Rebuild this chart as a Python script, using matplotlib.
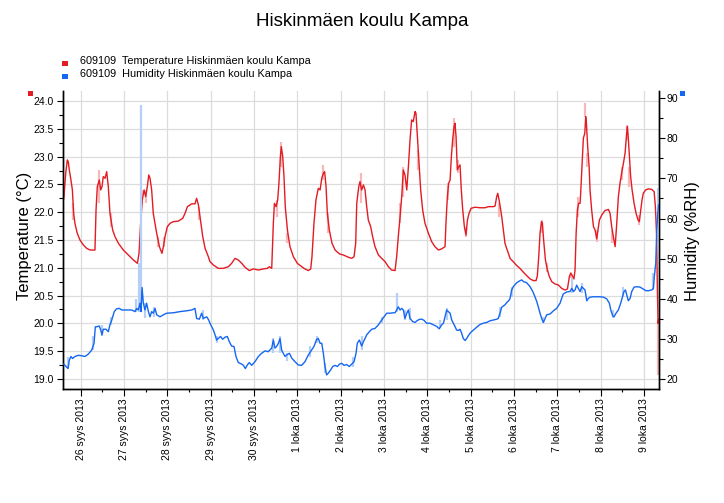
import datetime as dt
import matplotlib
matplotlib.use("Agg")
import matplotlib.pyplot as plt
import matplotlib.dates as mdates
from matplotlib.ticker import MultipleLocator, FuncFormatter
from matplotlib.patches import Rectangle

plt.rcParams['font.family'] = ['Liberation Sans', 'DejaVu Sans']

title = "Hiskinmäen koulu Kampa"
series_names = ["609109  Temperature Hiskinmäen koulu Kampa",
                "609109  Humidity Hiskinmäen koulu Kampa"]
month_names = {9: "syys", 10: "loka"}
base = dt.datetime(2013, 9, 26)
x_start_h, x_end_h = -9.8, 320.3

# hours since 26.9.2013 00:00
temp_h = [-9.3, -8.3, -7.4, -6.9, -6.3, -5.4, -4.6, -3.9, -3.2, -1.9, -0.4, 1.5, 3.3, 5.2, 7.9, 8.5, 9.2, 10.3, 11.1, 11.8,
          12.5, 13.5, 14.4, 15.3, 16.2, 17.7, 19.0, 20.9, 23.6, 26.4, 29.2, 31.4, 32.3, 33.2, 34.1, 35.1, 36.0, 36.9, 37.7, 38.4,
          39.3, 40.2, 42.1, 43.6, 45.0, 45.8, 46.7, 48.0, 49.5, 51.3, 54.1, 56.5, 57.8, 59.1, 61.5, 63.3, 64.2, 65.2, 66.1, 67.6,
          68.9, 70.7,
          71.6, 73.5, 76.2, 79.0, 81.8, 83.6, 85.5, 87.3, 89.2, 91.0, 93.4, 95.6, 98.4, 101.2, 103.4, 104.5, 105.8, 106.7, 107.3, 108.2,
          109.1, 109.8, 110.6, 111.1, 111.9, 112.6, 113.3, 114.5, 115.9, 117.8, 120.0, 122.4, 124.2, 126.1, 127.4, 128.1, 129.2, 130.3, 131.6, 132.6,
          133.5, 134.4, 135.1, 135.9, 136.6, 137.7, 139.2, 140.9, 143.3, 145.5, 148.2, 150.1, 151.4, 152.3, 152.9, 154.0,
          154.7, 155.6, 156.6, 157.5, 158.4, 159.3, 160.6, 161.7, 163.0, 164.9, 166.7, 168.6, 170.4, 172.2, 174.1, 175.0, 175.9, 176.9, 177.8, 178.7,
          179.6, 180.6, 181.5, 182.4, 183.3, 184.2, 185.2, 185.7, 186.5, 187.4, 188.3, 189.4, 190.7, 192.6, 194.4, 196.2, 198.1, 199.9, 201.8, 202.3,
          203.1, 203.8, 204.6, 205.3, 206.0, 206.8, 207.3, 207.9, 208.6, 209.4, 210.1, 210.8, 211.6, 212.5, 213.4, 214.2, 215.1, 216.2, 218.4, 221.2,
          223.9, 225.8, 228.6, 229.5, 230.4, 231.0, 231.9, 233.2, 234.1, 235.0, 235.9, 236.9,
          237.8, 239.6, 241.5, 243.3, 245.2, 247.0, 248.9, 250.7, 252.2, 252.9, 253.7, 254.4, 255.2, 255.7, 256.4, 257.4, 258.5, 259.6, 260.9, 262.7,
          264.6, 266.4, 268.3, 269.6, 270.7, 271.4, 272.1, 273.2, 273.8, 274.4, 275.1, 275.8, 276.6, 277.1, 277.9, 278.4, 279.2, 279.7, 280.1, 280.8,
          281.6, 282.1, 283.0, 284.0, 284.9, 285.8, 286.5, 287.3, 288.6, 290.4, 292.3, 293.2, 294.1, 295.0, 296.0, 296.9, 297.8, 298.7, 299.6, 300.6,
          301.5, 302.4, 302.8, 303.3, 303.9, 304.6, 305.4, 306.5, 307.6, 308.7, 309.4, 310.2, 310.9, 311.6, 312.9, 314.4, 316.3, 317.6, 318.3, 319.0,
          319.4, 319.8, 320.1]
temp_v = [22.28, 22.70, 22.94, 22.91, 22.76, 22.58, 22.40, 21.98, 21.80, 21.62, 21.50, 21.41, 21.35, 21.32, 21.32, 22.04, 22.46, 22.58, 22.40, 22.46,
          22.64, 22.61, 22.73, 22.46, 21.98, 21.68, 21.56, 21.44, 21.32, 21.23, 21.14, 21.08, 21.26, 21.80, 22.22, 22.40, 22.28, 22.46, 22.67, 22.61,
          22.40, 21.98, 21.62, 21.38, 21.26, 21.38, 21.56, 21.74, 21.80, 21.83, 21.84, 21.89, 21.98, 22.10, 22.15, 22.15, 22.25, 22.13, 21.92, 21.56,
          21.35, 21.20,
          21.11, 21.05, 20.99, 20.99, 21.02, 21.08, 21.17, 21.14, 21.08, 21.01, 20.95, 20.98, 20.96, 20.98, 20.99, 21.02, 20.99, 21.80, 22.16, 22.10,
          22.22, 22.52, 23.00, 23.18, 23.00, 22.64, 22.10, 21.68, 21.38, 21.20, 21.08, 21.02, 20.98, 20.95, 20.98, 21.20, 21.80, 22.22, 22.43, 22.40,
          22.61, 22.70, 22.73, 22.46, 21.98, 21.68, 21.44, 21.32, 21.25, 21.23, 21.19, 21.17, 21.20, 21.44, 22.16, 22.46,
          22.55, 22.40, 22.49, 22.40, 22.10, 21.86, 21.74, 21.56, 21.38, 21.23, 21.17, 21.11, 21.02, 20.96, 20.95, 21.20, 21.56, 21.92, 22.28, 22.76,
          22.67, 22.40, 22.82, 23.30, 23.66, 23.63, 23.81, 23.78, 23.36, 22.88, 22.40, 22.04, 21.80, 21.62, 21.47, 21.38, 21.32, 21.34, 21.38, 21.80,
          22.28, 22.52, 22.58, 23.00, 23.30, 23.54, 23.60, 23.36, 22.76, 22.82, 22.85, 22.40, 22.04, 21.74, 21.59, 21.86, 21.98, 22.07, 22.09, 22.08,
          22.08, 22.10, 22.10, 22.11, 22.28, 22.34, 22.19, 21.92, 21.68, 21.44, 21.35, 21.26,
          21.17, 21.11, 21.04, 20.99, 20.92, 20.86, 20.80, 20.77, 20.77, 20.85, 21.20, 21.62, 21.83, 21.80, 21.50, 21.14, 20.96, 20.84, 20.75, 20.71,
          20.69, 20.63, 20.60, 20.62, 20.85, 20.90, 20.87, 20.80, 20.96, 21.62, 22.04, 22.16, 22.16, 22.46, 23.00, 23.33, 23.42, 23.72, 23.60, 23.18,
          22.82, 22.40, 22.04, 21.74, 21.68, 21.52, 21.68, 21.86, 21.95, 22.03, 22.05, 21.98, 21.74, 21.56, 21.38, 21.80, 22.28, 22.52, 22.70, 22.88,
          23.06, 23.42, 23.54, 23.33, 23.00, 22.64, 22.40, 22.16, 21.98, 21.86, 21.83, 22.04, 22.22, 22.34, 22.40, 22.42, 22.41, 22.37, 22.10, 21.56,
          20.60, 20.00, 20.07]

hum_h = [-9.3, -8.1, -7.0, -6.3, -5.4, -4.5, -3.2, -1.3, 0.5, 2.4, 4.2, 6.1, 7.4, 8.1, 8.8, 10.3, 11.1, 11.8, 12.5, 14.0,
         15.3, 16.2, 17.2, 18.6, 19.9, 21.4, 22.7, 25.5, 28.2, 30.1, 31.0, 31.9, 32.9, 33.4, 34.0, 34.7, 35.6, 36.5, 37.5, 38.4,
         39.3, 40.2, 41.2, 42.1, 43.9, 45.8, 47.6, 51.3, 55.0, 58.7, 61.5, 63.3, 64.2, 65.7, 67.0, 67.9, 69.8, 70.9,
         71.6, 72.5, 73.5, 74.4, 75.3, 76.2, 77.5, 78.6, 79.9, 81.2, 82.3, 83.6, 84.9, 86.0, 87.3, 89.2, 90.1, 91.2, 92.3, 93.4,
         94.7, 96.5, 98.4, 100.2, 102.1, 103.9, 105.8, 106.7, 107.6, 108.5, 109.5, 110.4, 111.3, 112.2, 113.2, 114.1, 115.6, 116.9, 118.7, 120.5,
         122.4, 124.2, 126.1, 127.9, 129.2, 130.7, 131.6, 132.6, 133.5, 134.4, 135.3, 136.2, 137.4, 138.5, 139.6, 140.9, 142.2, 143.3, 144.6, 145.8,
         147.3, 148.8, 150.1, 151.4, 152.5, 153.2, 154.3,
         154.7, 155.6, 156.6, 157.5, 158.4, 159.9, 161.2, 163.0, 164.9, 166.7, 168.0, 169.5, 171.3, 173.2, 174.1, 175.0, 175.9, 176.9, 177.8, 178.7,
         179.6, 180.6, 181.5, 182.4, 183.9, 185.2, 186.5, 187.9, 189.0, 190.2, 191.6, 193.5, 195.3, 197.2, 198.6, 199.9, 200.9, 201.8, 202.7, 203.6,
         204.6, 205.5, 206.4, 207.3, 208.2, 209.2, 210.1, 211.0, 211.9, 212.9, 213.8, 214.7, 216.0, 217.5, 219.3, 221.2, 223.0, 224.9, 226.7, 228.6,
         230.4, 231.3, 232.3, 233.2, 234.1, 235.0, 235.9, 237.4,
         237.8, 238.7, 239.6, 241.5, 243.3, 244.3, 245.2, 247.0, 248.9, 250.4, 251.6, 252.6, 253.5, 254.4, 255.3, 256.3, 257.2, 258.1, 260.0, 261.8,
         263.6, 265.5, 266.4, 267.3, 269.2, 271.0, 272.0, 272.9, 273.8, 274.7, 275.6, 276.6, 277.5, 278.4, 279.3, 280.3, 281.2, 282.1, 284.0, 285.8,
         287.6, 289.5, 291.3, 292.8, 293.6, 294.7, 295.4, 296.5, 297.8, 299.1, 300.2, 300.9, 301.7, 302.4, 303.3, 304.3, 305.2, 306.5, 308.0, 309.8,
         311.6, 313.1, 314.4, 316.3, 317.2, 317.7, 318.5, 319.0, 319.6, 320.1]
hum_v = [23.7, 23.1, 22.6, 24.7, 25.6, 25.1, 25.6, 25.9, 25.8, 25.6, 26.2, 27.2, 28.9, 33.0, 33.0, 33.2, 32.2, 31.0, 32.4, 32.4,
         31.8, 33.5, 34.7, 36.8, 37.5, 37.6, 37.2, 37.2, 37.2, 36.8, 37.6, 37.2, 38.9, 36.8, 42.8, 38.9, 37.2, 38.9, 36.8, 35.5,
         36.8, 36.4, 37.6, 36.0, 35.5, 36.0, 36.4, 36.5, 36.8, 37.0, 37.2, 37.6, 35.1, 34.9, 36.4, 35.1, 35.5, 34.7,
         33.9, 33.1, 32.2, 31.0, 29.7, 30.1, 30.6, 29.9, 30.4, 30.6, 29.3, 28.2, 28.1, 25.6, 24.1, 23.7, 23.4, 22.6, 23.5, 24.1,
         23.4, 24.3, 25.6, 26.4, 27.0, 26.8, 27.7, 29.7, 27.7, 28.1, 28.9, 30.1, 27.2, 26.4, 25.6, 26.0, 26.4, 25.2, 24.3, 23.5,
         23.4, 24.3, 26.0, 27.2, 28.1, 29.9, 30.1, 28.9, 28.9, 26.4, 23.1, 21.0, 21.6, 22.3, 23.1, 23.4, 23.1, 23.7, 23.9, 23.4,
         23.6, 23.1, 23.7, 24.3, 26.4, 28.9, 29.7,
         29.3, 28.2, 29.3, 30.1, 31.0, 31.8, 32.4, 32.6, 33.5, 34.7, 35.5, 36.4, 36.4, 36.5, 36.5, 37.2, 38.0, 37.2, 37.6, 37.2,
         35.1, 36.4, 37.2, 35.1, 34.3, 34.1, 34.6, 34.9, 34.9, 34.6, 33.9, 33.9, 33.5, 33.1, 32.5, 33.5, 33.9, 35.5, 37.2, 36.8,
         36.4, 34.7, 33.9, 33.1, 32.2, 32.1, 32.4, 31.4, 30.1, 29.6, 30.1, 30.8, 31.6, 32.2, 32.9, 33.6, 33.9, 34.1, 34.5, 34.7,
         34.9, 35.1, 36.5, 37.9, 38.2, 38.5, 39.0, 39.7,
         40.1, 42.2, 43.0, 44.0, 44.5, 44.7, 44.3, 44.0, 43.0, 41.8, 40.5, 39.3, 37.9, 36.4, 35.1, 34.1, 35.1, 36.0, 36.2, 37.0,
         37.6, 38.9, 40.1, 41.2, 41.7, 41.8, 42.6, 41.8, 42.2, 43.4, 42.6, 41.8, 43.0, 42.6, 42.2, 39.5, 40.1, 40.4, 40.5, 40.5,
         40.5, 40.4, 40.0, 38.9, 37.2, 35.7, 35.5, 36.4, 37.2, 38.9, 40.7, 41.8, 42.2, 41.0, 39.5, 40.1, 41.8, 42.9, 43.0, 42.9,
         42.4, 42.0, 42.0, 42.2, 42.6, 45.5, 48.9, 56.3, 61.3, 63.4]

# min/max spread bars (hours, low, high)
temp_band_h = [-9.1, -4.1, 10.1, 16.8, 34.1, 36.2, 42.6, 46.3, 65.7, 108.5, 110.8, 114.5, 134.2, 137.2, 155.0, 176.9, 178.3,
               187.0, 203.6, 207.0, 209.2, 213.4, 231.9, 255.3, 258.1, 271.4, 275.6, 279.3, 280.3, 285.8, 294.1, 299.6,
               302.4, 303.9, 309.1, 319.6]
temp_band_lo = [22.22, 21.86, 22.16, 21.74, 22.13, 22.16, 21.38, 21.38, 21.86, 21.92, 22.82, 21.44, 22.58, 21.62, 22.16, 21.80, 22.28,
                22.76, 22.22, 23.18, 22.70, 21.56, 21.92, 21.62, 20.93, 20.81, 21.92, 23.72, 22.82, 21.47, 21.44, 22.58,
                23.30, 22.46, 21.77, 19.08]
temp_band_hi = [22.52, 22.16, 22.76, 21.98, 22.40, 22.40, 21.56, 21.56, 22.10, 22.22, 23.27, 21.62, 22.85, 21.98, 22.70, 22.16, 22.82,
                23.12, 22.52, 23.69, 22.94, 21.74, 22.16, 21.86, 21.08, 20.93, 22.28, 23.96, 23.06, 21.68, 21.68, 22.82,
                23.57, 22.82, 21.95, 20.01]
hum_band_h = [-6.9, 7.0, 11.6, 16.6, 30.6, 32.1, 33.6, 35.6, 40.8, 67.6, 75.3, 106.7, 110.4, 114.1, 127.0, 131.1, 135.3, 151.0,
              155.6, 166.7, 175.0, 179.6, 182.4, 199.0, 203.1, 232.3, 238.7, 255.9, 272.0, 277.5, 295.0, 300.6, 317.2, 320.0]
hum_band_lo = [22.7, 27.2, 30.6, 33.5, 36.8, 36.8, 36.8, 35.1, 35.5, 34.7, 28.9, 26.4, 26.4, 24.6, 25.6, 28.9, 21.4, 23.1,
               27.2, 33.9, 36.8, 34.7, 34.7, 32.6, 34.7, 35.5, 40.5, 33.9, 41.4, 41.4, 35.1, 40.5, 42.2, 62.2]
hum_band_hi = [25.6, 30.6, 33.5, 35.5, 39.9, 48.9, 88.3, 38.9, 38.0, 37.2, 30.6, 30.1, 30.6, 26.4, 28.1, 30.6, 23.9, 25.6,
               30.6, 35.5, 41.4, 37.2, 37.6, 34.7, 37.6, 38.0, 43.0, 35.5, 45.1, 43.9, 37.2, 42.9, 46.4, 67.6]

RED, BLUE = '#E31B23', '#1467F2'
PINK, LBLUE = '#F5B9B9', '#B5CFF7'


def to_dates(hours):
    return [base + dt.timedelta(hours=h) for h in hours]


W, H = 724, 503
fig = plt.figure(figsize=(W / 100, H / 100), dpi=100)
ax = fig.add_axes([63 / W, 1 - 389 / H, (659 - 63) / W, (389 - 91) / H])
ax2 = ax.twinx()

ax.vlines(to_dates(temp_band_h), temp_band_lo, temp_band_hi, colors=PINK, lw=1.6, zorder=2)
ax.plot(to_dates(temp_h), temp_v, color=RED, lw=1.0, zorder=3)
ax2.vlines(to_dates(hum_band_h), hum_band_lo, hum_band_hi, colors=LBLUE, lw=1.6, zorder=2)
ax2.plot(to_dates(hum_h), hum_v, color=BLUE, lw=1.0, zorder=3)

ax.set_xlim(to_dates([x_start_h, x_end_h]))
ax.set_ylim(18.82, 24.18)
ax2.set_ylim(17.5, 91.8)

ax.xaxis.set_major_locator(mdates.DayLocator())
ax.xaxis.set_minor_locator(mdates.HourLocator(byhour=[12]))


def fmt_date(x, pos):
    d = mdates.num2date(x)
    return f"{d.day} {month_names[d.month]} {d.year}"


ax.xaxis.set_major_formatter(FuncFormatter(fmt_date))
ax.yaxis.set_major_locator(MultipleLocator(0.5))
ax.yaxis.set_minor_locator(MultipleLocator(0.25))
ax.yaxis.set_major_formatter(FuncFormatter(lambda v, p: f"{v:.1f}"))
ax2.yaxis.set_major_locator(MultipleLocator(10))
ax2.yaxis.set_minor_locator(MultipleLocator(5))

ax.grid(True, which='major', color='#DCDCDC', lw=0.9, zorder=0)
ax.set_axisbelow(True)

for a in (ax, ax2):
    a.spines['top'].set_visible(False)
    for s in a.spines.values():
        s.set_linewidth(1.0)
        s.set_color('black')

ax.tick_params(axis='x', which='major', length=5, width=0.8, pad=1.5, labelsize=7.5, labelrotation=90)
ax.tick_params(axis='x', which='minor', length=2.3, width=0.8)
ax.tick_params(axis='y', which='major', length=4.3, width=0.8, pad=2.2, labelsize=7.5)
ax.tick_params(axis='y', which='minor', length=2.6, width=0.8)
ax2.tick_params(axis='y', which='major', length=4.3, width=0.8, pad=1.0, labelsize=7.5)
ax2.tick_params(axis='y', which='minor', length=2.6, width=0.8)
for lab in ax.get_xticklabels():
    lab.set_ha('center')
    lab.set_va('top')

fig.text(0.5, 1 - 22 / H, title, ha='center', va='center', fontsize=13.5)
fig.text(24.5 / W, 1 - 236 / H, "Temperature (°C)", rotation=90, ha='center', va='center', fontsize=12)
fig.text(692.5 / W, 1 - 241 / H, "Humidity (%RH)", rotation=90, ha='center', va='center', fontsize=12)

# legend
for i, (name, col) in enumerate(zip(series_names, [RED, BLUE])):
    yc = 61 + 13 * i
    fig.add_artist(Rectangle((62 / W, 1 - (yc + 5) / H), 6 / W, 5 / H, transform=fig.transFigure,
                             facecolor=col, edgecolor='none'))
    fig.text(80 / W, 1 - yc / H, name, ha='left', va='center', fontsize=7.8)

# axis colour markers
fig.add_artist(Rectangle((27.5 / W, 1 - 96 / H), 5 / W, 5 / H, transform=fig.transFigure, facecolor=RED, edgecolor='none'))
fig.add_artist(Rectangle((680 / W, 1 - 96 / H), 5 / W, 5 / H, transform=fig.transFigure, facecolor=BLUE, edgecolor='none'))

fig.savefig("out.png", dpi=100)
